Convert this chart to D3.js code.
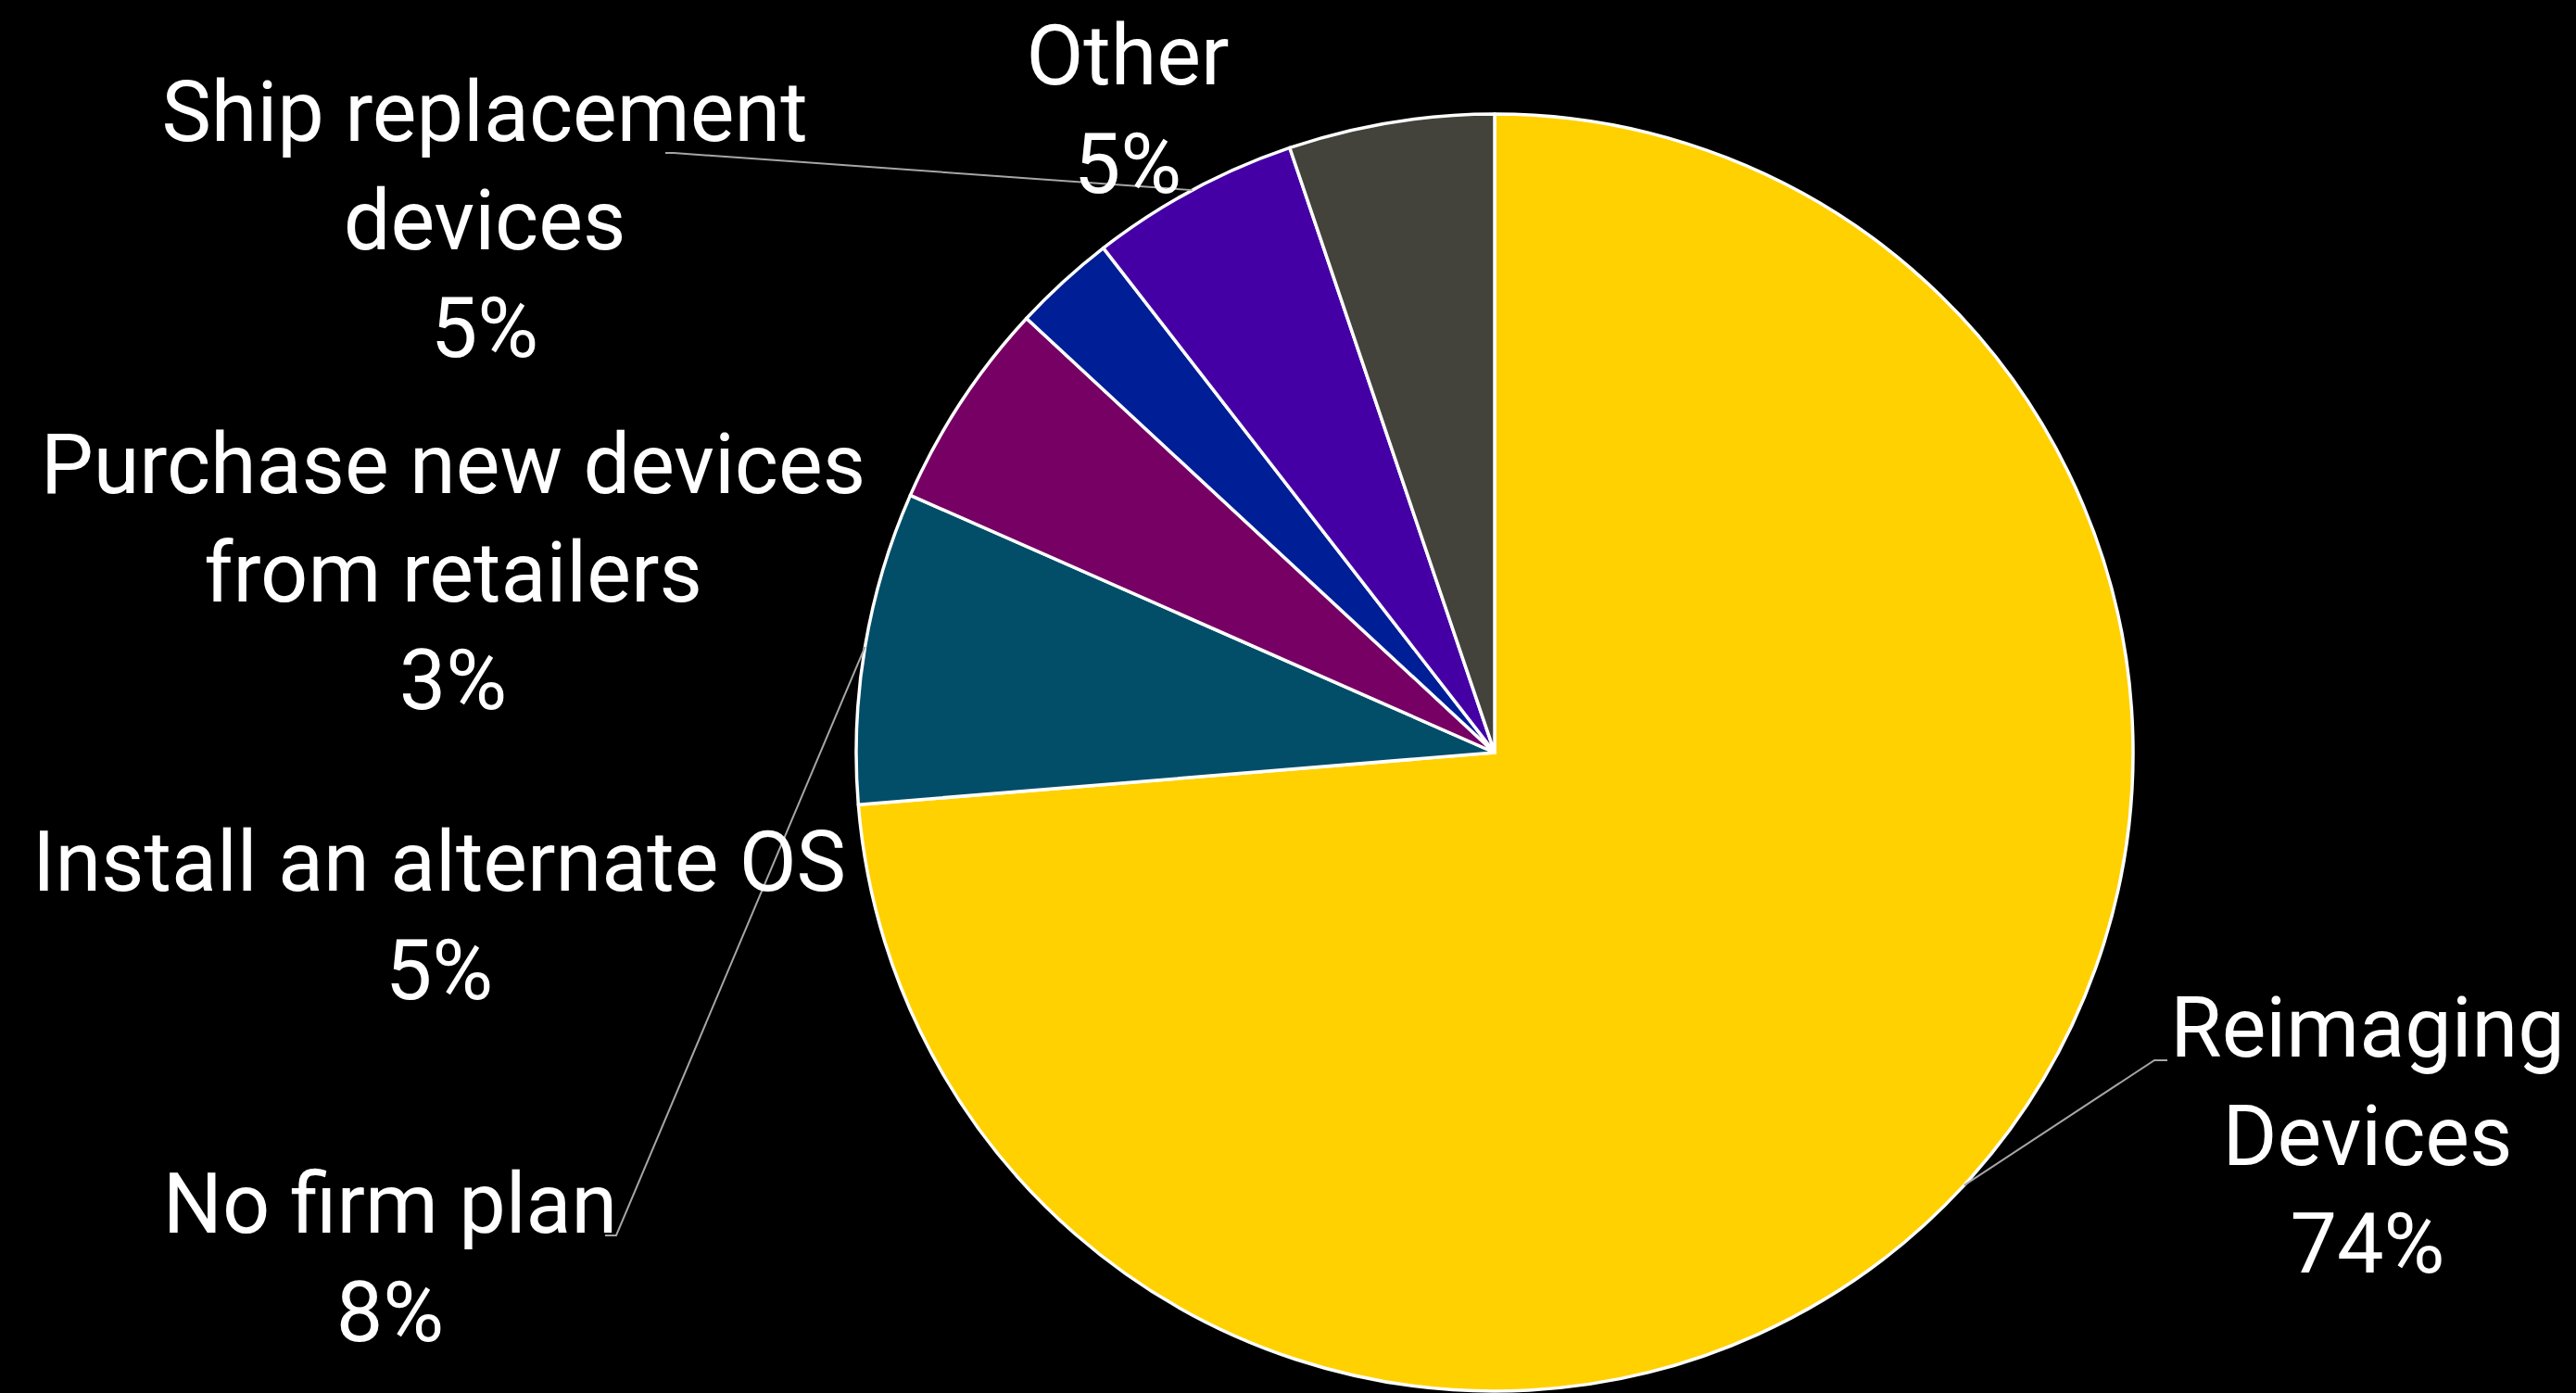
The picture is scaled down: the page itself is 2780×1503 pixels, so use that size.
<!DOCTYPE html>
<html>
<head>
<meta charset="utf-8">
<script src="https://cdn.jsdelivr.net/npm/d3@7"></script>
<style>
  html, body { margin: 0; padding: 0; background: #000; }
  svg { display: block; }
</style>
</head>
<body>
<div id="chart"></div>
<script>
// data
const categories = ["Reimaging Devices", "No firm plan", "Install an alternate OS",
    "Purchase new devices from retailers", "Ship replacement devices", "Other"];
const values = [73.7, 7.9, 5.3, 2.6, 5.3, 5.2];
const percentLabels = ["74%", "8%", "5%", "3%", "5%", "5%"];
const colors = ["#FFD100", "#024E69", "#760063", "#001E96", "#4500A5", "#43433B"];

// label layout (line breaks, anchor of first baseline, leader elbow)
const labelLines = [
    ["Reimaging", "Devices"],
    ["No firm plan"],
    ["Install an alternate OS"],
    ["Purchase new devices", "from retailers"],
    ["Ship replacement", "devices"],
    ["Other"]
];
const labelPos = [[2555, 1140], [421, 1330], [474, 961], [489, 532], [523, 152], [1217, 91]];
const leaders = [
    {i: 0, elbow: [2325, 1144], end: [2339, 1144]},
    {i: 1, elbow: [665, 1333], end: [653, 1333]},
    {i: 4, elbow: [727, 165], end: [718, 165]}
];

const width = 2780, height = 1503;
const cx = 1613, cy = 812, radius = 689;
const lineStep = 116.5;

const data = categories.map((c, i) => ({name: c, value: values[i]}));

const svg = d3.select("#chart").append("svg")
    .attr("width", width)
    .attr("height", height)
    .style("background", "#000");

const pie = d3.pie().sort(null).value(d => d.value);
const arcs = pie(data);
const arc = d3.arc().innerRadius(0).outerRadius(radius);
const rim = d3.arc().innerRadius(radius).outerRadius(radius);

const g = svg.append("g").attr("transform", `translate(${cx},${cy})`);

g.selectAll("path.slice")
    .data(arcs)
    .enter().append("path")
    .attr("class", "slice")
    .attr("d", arc)
    .attr("fill", (d, i) => colors[i])
    .attr("stroke", "#fff")
    .attr("stroke-width", 3.5)
    .attr("stroke-linejoin", "round");

// leader lines
svg.selectAll("polyline.leader")
    .data(leaders)
    .enter().append("polyline")
    .attr("class", "leader")
    .attr("points", d => {
        const p = rim.centroid(arcs[d.i]);
        return [[p[0] + cx, p[1] + cy], d.elbow, d.end].map(q => q.join(",")).join(" ");
    })
    .attr("fill", "none")
    .attr("stroke", "#a6a6a6")
    .attr("stroke-width", 2);

// labels
const labels = svg.selectAll("text.label")
    .data(arcs)
    .enter().append("text")
    .attr("class", "label")
    .attr("x", (d, i) => labelPos[i][0])
    .attr("y", (d, i) => labelPos[i][1])
    .attr("text-anchor", "middle")
    .attr("fill", "#fff")
    .style("font-family", "Roboto, 'Noto Sans', sans-serif")
    .style("font-size", "90px");

labels.each(function(d, i) {
    const t = d3.select(this);
    const lines = labelLines[i].concat([percentLabels[i]]);
    lines.forEach((s, k) => {
        t.append("tspan")
            .attr("x", labelPos[i][0])
            .attr("y", labelPos[i][1] + k * lineStep)
            .text(s);
    });
});
</script>
</body>
</html>
